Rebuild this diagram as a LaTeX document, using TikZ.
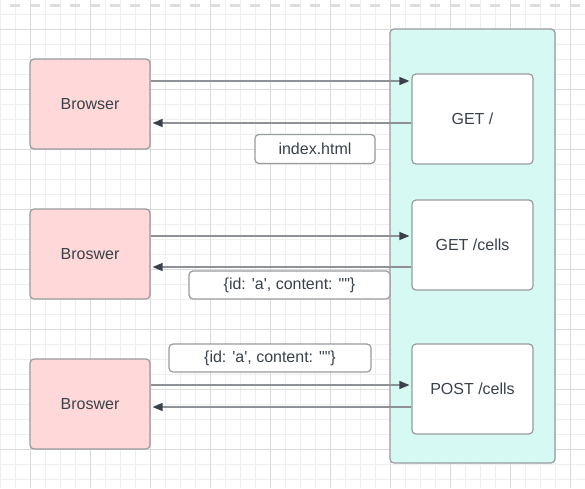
\documentclass[tikz,border=0pt]{standalone}
\usepackage{fontspec}
\setmainfont{Liberation Sans}[Ligatures=TeXOff]
\usetikzlibrary{arrows.meta,calc}
\definecolor{gridminor}{HTML}{EEEEEE}
\definecolor{gridmajor}{HTML}{DADADA}
\definecolor{dashcol}{HTML}{DDDDDD}
\definecolor{pinkfill}{HTML}{FFD9D9}
\definecolor{tealfill}{HTML}{D6F9F3}
\definecolor{boxline}{HTML}{979A9E}
\definecolor{txt}{HTML}{3A414A}
\definecolor{arrline}{HTML}{8E9297}
\definecolor{arrhead}{HTML}{3A414A}
\tikzset{
  basebox/.style={draw=boxline, line width=1.2pt, rounded corners=4pt, inner sep=0pt,
    text=txt, font=\fontsize{16}{19}\selectfont},
  browser/.style={basebox, fill=pinkfill, minimum width=120pt, minimum height=90pt},
  handler/.style={basebox, fill=white, minimum width=121pt, minimum height=90pt},
  labelbox/.style={basebox, fill=white, minimum height=29pt},
  container/.style={draw=boxline, line width=1.2pt, rounded corners=4pt, fill=tealfill,
    inner sep=0pt, minimum width=165pt, minimum height=434pt},
  arr/.style={draw=arrline, line width=1.3pt, shorten >=2pt,
    -{Triangle[length=10pt,width=8pt,color=arrhead]}}
}
\begin{document}
\begin{tikzpicture}[x=1pt,y=-1pt]
\useasboundingbox (0,0) rectangle (585,488);
\fill[white] (0,0) rectangle (585,488);
% grid
\foreach \i in {0,...,39} {
  \draw[gridminor, line width=0.9pt] ({15*\i},0) -- ({15*\i},488);
}
\foreach \j in {0,...,32} {
  \draw[gridminor, line width=0.9pt] (0,{14+15*\j}) -- (585,{14+15*\j});
}
\foreach \i in {0,...,9} {
  \draw[gridmajor, line width=0.9pt] ({30+60*\i},0) -- ({30+60*\i},488);
}
\foreach \j in {0,...,7} {
  \draw[gridmajor, line width=0.9pt] (0,{29+60*\j}) -- (585,{29+60*\j});
}
\draw[dashcol, line width=3pt, dash pattern=on 10pt off 10pt] (10,5) -- (585,5);

% container
\node[container] (srv) at (472.5,246) {};

% handlers
\node[handler] (g1) at (472.5,119) {GET /};
\node[handler] (g2) at (472.5,245) {GET /cells};
\node[handler] (g3) at (472.5,389) {POST /cells};

% browsers
\node[browser] (b1) at (90,104) {Browser};
\node[browser] (b2) at (90,254) {Broswer};
\node[browser] (b3) at (90,404) {Broswer};

% labels
\node[labelbox, minimum width=120pt] (l1) at (315,149) {index.html};
\node[labelbox, minimum width=201pt, minimum height=28pt] (l2) at (289.5,285) {\{id: 'a', content: ""\}};
\node[labelbox, minimum width=202pt, minimum height=28pt] (l3) at (270,358) {\{id: 'a', content: ""\}};

% connectors
\draw[arr] ([yshift=23pt]b1.east) -- ([yshift=23pt]b1.east -| g1.west);
\draw[arr] ([yshift=-19pt]b1.east -| g1.west) -- ([yshift=-19pt]b1.east);
\draw[arr] ([yshift=18pt]b2.east) -- ([yshift=18pt]b2.east -| g2.west);
\draw[arr] ([yshift=-13pt]b2.east -| g2.west) -- ([yshift=-13pt]b2.east);
\draw[arr] ([yshift=19pt]b3.east) -- ([yshift=19pt]b3.east -| g3.west);
\draw[arr] ([yshift=-3pt]b3.east -| g3.west) -- ([yshift=-3pt]b3.east);
\end{tikzpicture}
\end{document}
